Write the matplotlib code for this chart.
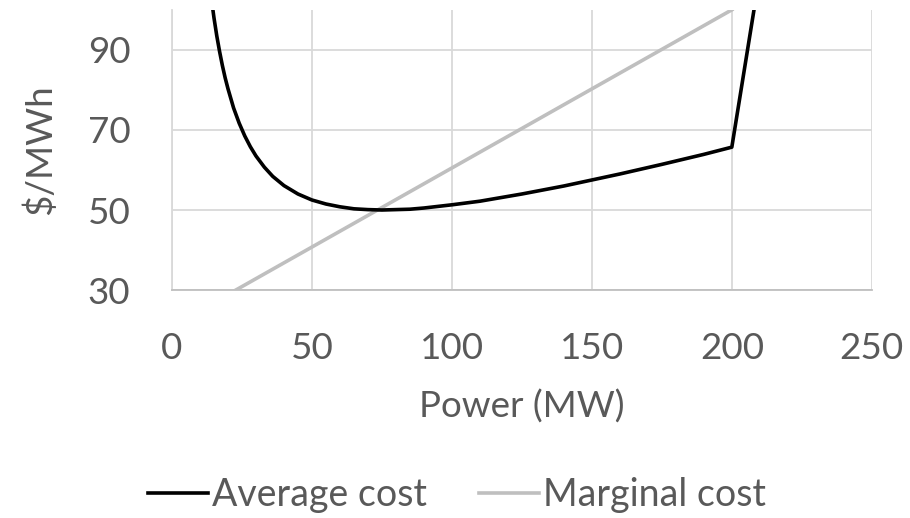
import matplotlib.pyplot as plt

plt.rcParams['font.family'] = ['Lato', 'DejaVu Sans']

# values
power_avg = [12, 13, 14, 15, 16, 17, 18, 19, 20, 22, 24, 26, 28, 30, 33, 36, 40, 45, 50,
             55, 60, 65, 70, 75, 80, 85, 90, 100, 110, 125, 140, 150, 160, 175, 190, 200, 210]
avg_cost = [116.1, 109.1, 103.2, 98, 93.5, 89.6, 86.1, 83, 80.3, 75.5, 71.7, 68.5, 65.8, 63.5,
            60.7, 58.4, 56.1, 54, 52.5, 51.5, 50.8, 50.3, 50.1, 50, 50.1, 50.2, 50.5, 51.3,
            52.2, 54, 56, 57.5, 59, 61.4, 63.9, 65.7, 109]
power_marg = [0, 200]
marg_cost = [21, 100]

xticks = [0, 50, 100, 150, 200, 250]
yticks = [30, 50, 70, 90]

txt = '#595959'
grid = '#d9d9d9'

fig = plt.figure(figsize=(9.1, 5.18), dpi=100)
ax = fig.add_axes([0.189, 0.440, 0.769, 0.541])

ax.plot(power_avg, avg_cost, color='black', lw=2.6, label='Average cost', zorder=3,
        solid_joinstyle='round')
ax.plot(power_marg, marg_cost, color='#bfbfbf', lw=2.6, label='Marginal cost', zorder=2)

ax.set_xlim(0, 250)
ax.set_ylim(30, 100)
ax.set_xticks(xticks)
ax.set_yticks(yticks)
ax.grid(True, color=grid, lw=1.3)
ax.set_axisbelow(True)

for s in ['top', 'right']:
    ax.spines[s].set_visible(False)
ax.spines['left'].set_color(grid)
ax.spines['bottom'].set_color('#bfbfbf')
ax.spines['left'].set_linewidth(1.3)
ax.spines['bottom'].set_linewidth(1.3)

ax.tick_params(length=0, labelsize=26.5, colors=txt)
ax.tick_params(axis='x', pad=30)
ax.tick_params(axis='y', pad=30)

ax.set_xlabel('Power (MW)', fontsize=26.5, color=txt, labelpad=18)
ax.set_ylabel('$/MWh', fontsize=26.5, color=txt, labelpad=22)

leg = fig.legend(loc='center', bbox_to_anchor=(0.502, 0.045), ncol=2, frameon=False,
                 fontsize=27, handlelength=1.6, handletextpad=0.1, columnspacing=1.4)
for t in leg.get_texts():
    t.set_color(txt)

fig.savefig('out.png', dpi=100)
